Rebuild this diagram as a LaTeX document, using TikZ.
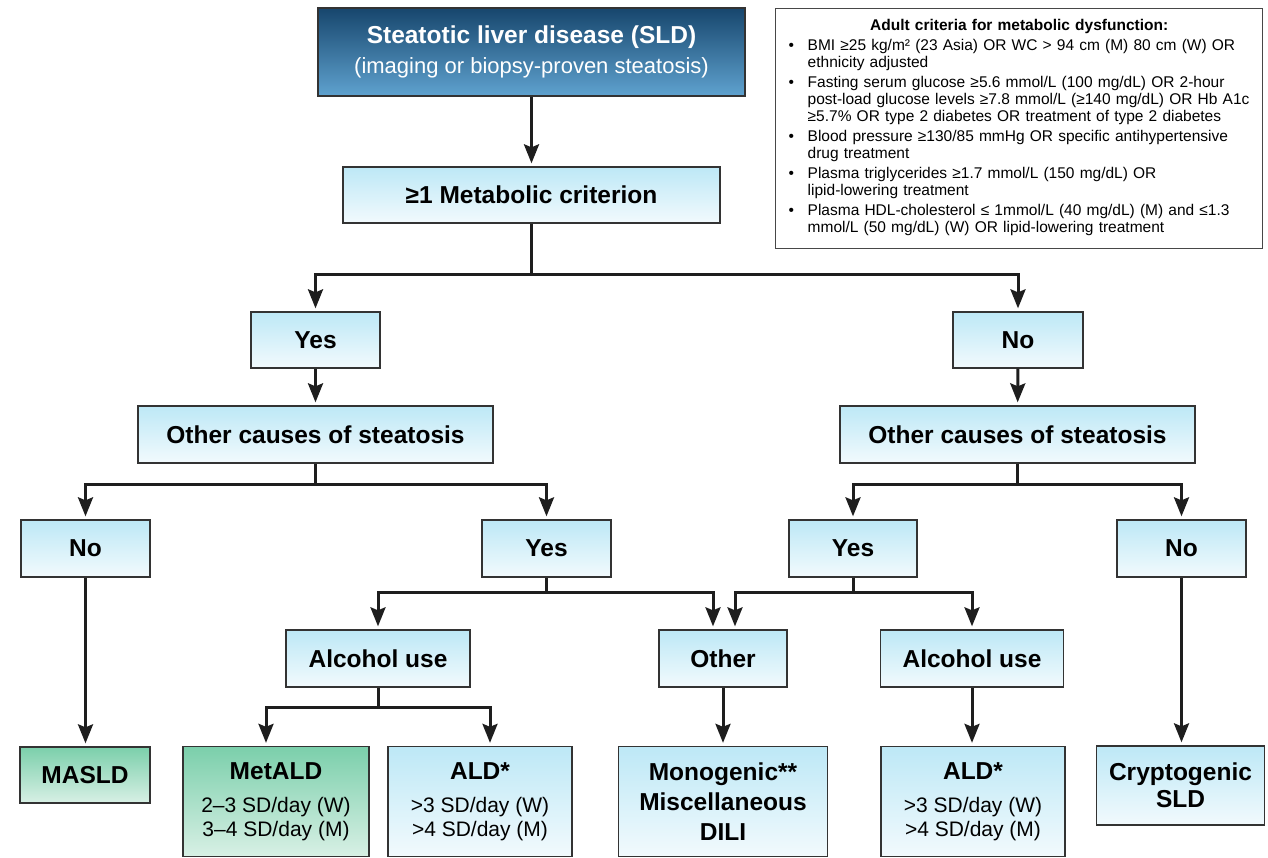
\documentclass[tikz,border=0pt]{standalone}
\usepackage{fontspec}
\setmainfont{Liberation Sans}
\usetikzlibrary{arrows.meta}
\definecolor{boxtop}{HTML}{BDE8F6}
\definecolor{boxbot}{HTML}{F2FAFD}
\definecolor{greentop}{HTML}{7BCFAB}
\definecolor{greenbot}{HTML}{D8F0E5}
\definecolor{navytop}{HTML}{17466D}
\definecolor{navybot}{HTML}{5FA2CF}
\definecolor{edge}{HTML}{333333}
\definecolor{wirecol}{HTML}{1E1E1E}
\newcommand\subfont{\mdseries\fontsize{21}{24}\selectfont}
\begin{document}
\begin{tikzpicture}[x=1pt, y=-1pt,
	box/.style={draw=edge, line width=1.3pt, top color=boxtop, bottom color=boxbot, inner sep=0pt, align=center, font=\fontsize{24.5}{30}\selectfont\bfseries},
	greenbox/.style={box, top color=greentop, bottom color=greenbot},
	navybox/.style={box, top color=navytop, bottom color=navybot, text=white},
	sz/.style 2 args={minimum width=#1pt, minimum height=#2pt},
	wire/.style={draw=wirecol, line width=3pt},
	arr/.style={wire, -{Stealth[length=19pt, width=15pt, inset=3pt]}, shorten >=3pt}]
	\useasboundingbox (0,0) rectangle (1268,858);
	% top
	\node[navybox, sz={427}{88}] (sld) at (531.5,52) {Steatotic liver disease (SLD)\\\mdseries\fontsize{22}{30}\selectfont (imaging or biopsy-proven steatosis)};
	\node[box, sz={377}{56}] (meta) at (531.5,195) {≥1 Metabolic criterion};
	\node[draw=edge!90, line width=1.4pt, fill=white, anchor=north west, inner xsep=13pt, inner ysep=0pt, text width=461pt, minimum height=240pt, align=left, font=\fontsize{15.5}{17}\selectfont] (crit) at (775,8) {%
		\centerline{\bfseries Adult criteria for metabolic dysfunction:}\vskip4pt
		\noindent\begin{tabular}{@{}l@{}l@{}}
		\makebox[19pt][l]{•} & BMI ≥25 kg/m² (23 Asia) OR WC > 94 cm (M) 80 cm (W) OR\\
		& ethnicity adjusted\\[3pt]
		• & Fasting serum glucose ≥5.6 mmol/L (100 mg/dL) OR 2-hour\\
		& post-load glucose levels ≥7.8 mmol/L (≥140 mg/dL) OR Hb A1c\\
		& ≥5.7\% OR type 2 diabetes OR treatment of type 2 diabetes\\[3pt]
		• & Blood pressure ≥130/85 mmHg OR specific antihypertensive\\
		& drug treatment\\[3pt]
		• & Plasma triglycerides ≥1.7 mmol/L (150 mg/dL) OR\\
		& lipid-lowering treatment\\[3pt]
		• & Plasma HDL-cholesterol ≤ 1mmol/L (40 mg/dL) (M) and ≤1.3\\
		& mmol/L (50 mg/dL) (W) OR lipid-lowering treatment
		\end{tabular}};
	% decision levels
	\node[box, sz={129}{56}] (yes1) at (315.5,340) {Yes};
	\node[box, sz={130}{56}] (no1) at (1018,340) {No};
	\node[box, sz={355}{57}] (oc1) at (315.5,434.5) {Other causes of steatosis};
	\node[box, sz={355}{57}] (oc2) at (1017.5,434.5) {Other causes of steatosis};
	\node[box, sz={129}{57}] (no2) at (85.5,548.5) {No};
	\node[box, sz={129}{57}] (yes2) at (546.5,548.5) {Yes};
	\node[box, sz={128}{57}] (yes3) at (853,548.5) {Yes};
	\node[box, sz={129}{57}] (no3) at (1181.5,548.5) {No};
	\node[box, sz={184}{57}] (alc1) at (378,658.5) {Alcohol use};
	\node[box, sz={128}{57}] (other) at (723,658.5) {Other};
	\node[box, sz={183}{57}] (alc2) at (972,658.5) {Alcohol use};
	% outcomes
	\node[greenbox, sz={130}{56}] (masld) at (85,775) {MASLD};
	\node[greenbox, sz={186}{110}] (metald) at (276,801.5) {MetALD\\[3pt]\subfont 2–3 SD/day (W)\\[-6pt]\subfont 3–4 SD/day (M)};
	\node[box, sz={184}{110}] (ald1) at (480,801.5) {ALD*\\[3pt]\subfont >3 SD/day (W)\\[-6pt]\subfont >4 SD/day (M)};
	\node[box, sz={209}{110}] (mono) at (723,801.5) {Monogenic**\\Miscellaneous\\DILI};
	\node[box, sz={184}{110}] (ald2) at (973,801.5) {ALD*\\[3pt]\subfont >3 SD/day (W)\\[-6pt]\subfont >4 SD/day (M)};
	\node[box, sz={168}{79}, font=\fontsize{24.5}{27}\selectfont\bfseries] (crypto) at (1180.5,785.5) {Cryptogenic\\SLD};
	% connectors
	\draw[arr] (sld) -- (meta);
	\draw[wire] (meta.south) -- ++(0,51) coordinate (j1);
	\draw[arr] (j1) -| (yes1);
	\draw[arr] (j1) -| (no1);
	\draw[arr] (yes1) -- (oc1);
	\draw[arr] (no1) -- (oc2);
	\draw[wire] (oc1.south) -- ++(0,21) coordinate (j2);
	\draw[arr] (j2) -| (no2);
	\draw[arr] (j2) -| (yes2);
	\draw[wire] (oc2.south) -- ++(0,21) coordinate (j3);
	\draw[arr] (j3) -| (yes3);
	\draw[arr] (j3) -| (no3);
	\draw[wire] (yes2.south) -- ++(0,15) coordinate (j4);
	\draw[arr] (j4) -| (alc1);
	\draw[arr] (j4) -| ([xshift=-10pt]other.north);
	\draw[wire] (yes3.south) -- ++(0,15) coordinate (j5);
	\draw[arr] (j5) -| ([xshift=12pt]other.north);
	\draw[arr] (j5) -| (alc2);
	\draw[wire] (alc1.south) -- ++(0,20) coordinate (j6);
	\draw[arr] (j6) -| ([xshift=-10pt]metald.north);
	\draw[arr] (j6) -| ([xshift=10pt]ald1.north);
	\draw[arr] (other) -- (mono);
	\draw[arr] (alc2) -- (alc2 |- ald2.north);
	\draw[arr] (no2) -- (no2 |- masld.north);
	\draw[arr] (no3) -- (no3 |- crypto.north);
\end{tikzpicture}
\end{document}
